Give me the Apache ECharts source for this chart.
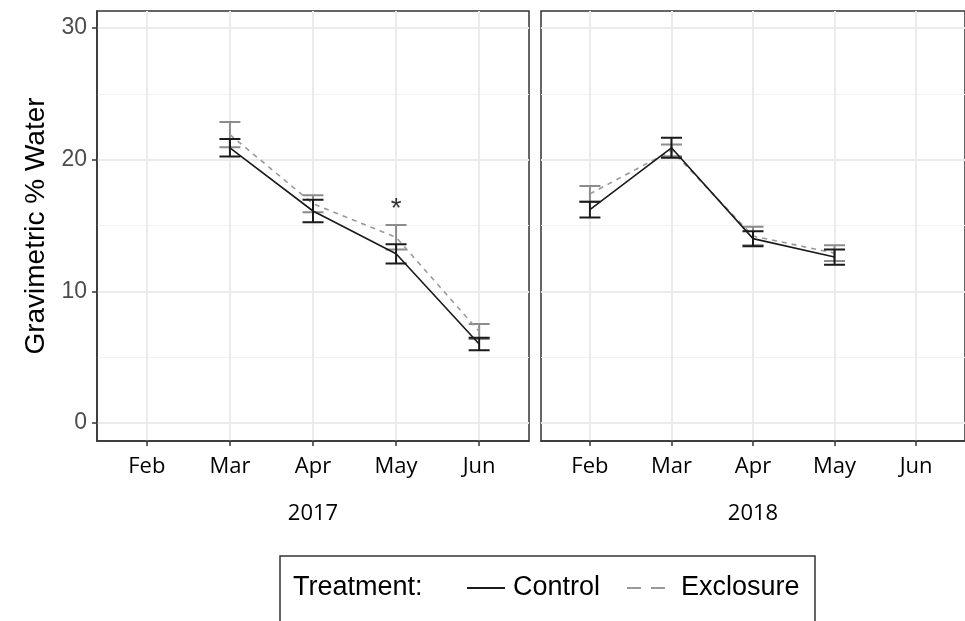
<!DOCTYPE html>
<html>
<head>
<meta charset="utf-8">
<script src="https://cdn.jsdelivr.net/npm/echarts@6/dist/echarts.min.js"></script>
<style>
html,body{margin:0;padding:0;background:#fff;}
#chart{width:965px;height:621px;}
</style>
</head>
<body>
<div id="chart"></div>
<script>
// ---- data ----
const months = ['Feb', 'Mar', 'Apr', 'May', 'Jun'];
const years = ['2017', '2018'];
const yTicks = [0, 10, 20, 30];
const yMinorTicks = [5, 15, 25];
const treatments = ['Control', 'Exclosure'];

const control2017 = [null, 20.9, 16.1, 12.85, 6.0];
const control2017Err = [null, 0.66, 0.85, 0.73, 0.47];
const exclosure2017 = [null, 21.9, 16.65, 14.1, 6.95];
const exclosure2017Err = [null, 0.95, 0.65, 0.93, 0.57];

const control2018 = [16.2, 20.9, 14.0, 12.6, null];
const control2018Err = [0.6, 0.76, 0.57, 0.58, null];
const exclosure2018 = [17.4, 20.7, 14.2, 12.9, null];
const exclosure2018Err = [0.6, 0.45, 0.7, 0.6, null];

const annotations = [{ year: '2017', month: 'May', value: 16.2, text: '*' }];

// ---- helpers ----
const CONTROL_COLOR = '#1a1a1a';
const EXCL_COLOR = '#999999';
const EXCL_ERR_COLOR = '#8c8c8c';

function linePoints(vals) {
  const out = [];
  vals.forEach((v, i) => { if (v !== null) out.push([i, v]); });
  return out;
}
function errPoints(vals, errs) {
  const out = [];
  vals.forEach((v, i) => { if (v !== null) out.push([i, v, errs[i]]); });
  return out;
}
function errRenderer(color) {
  return function (params, api) {
    const x = api.value(0), m = api.value(1), e = api.value(2);
    const top = api.coord([x, m + e]);
    const bot = api.coord([x, m - e]);
    const hw = 10.5;
    const cx = top[0];
    const d = 'M' + (cx - hw) + ' ' + top[1] + 'L' + (cx + hw) + ' ' + top[1] +
              'M' + cx + ' ' + top[1] + 'L' + cx + ' ' + bot[1] +
              'M' + (cx - hw) + ' ' + bot[1] + 'L' + (cx + hw) + ' ' + bot[1];
    return {
      type: 'path',
      shape: { pathData: d },
      style: { stroke: color, lineWidth: 2, fill: null }
    };
  };
}

const grids = [
  { left: 97, top: 11, width: 432, height: 430, show: true, borderColor: '#333', borderWidth: 1.5, backgroundColor: 'transparent' },
  { left: 541, top: 11, width: 432, height: 430, show: true, borderColor: '#333', borderWidth: 1.5, backgroundColor: 'transparent' }
];

const xAxes = years.map((yr, gi) => ({
  type: 'value', gridIndex: gi, min: -0.6, max: 4.6,
  name: yr, nameLocation: 'middle', nameGap: 62,
  nameTextStyle: { fontFamily: 'Open Sans', fontSize: 22, color: '#000' },
  axisLine: { show: true, onZero: false, lineStyle: { color: '#333', width: 1.5 } },
  axisTick: { show: true, length: 5, customValues: months.map((m, i) => i), lineStyle: { color: '#333', width: 1.5 } },
  axisLabel: { show: true, customValues: months.map((m, i) => i), margin: 15, fontFamily: 'Open Sans', fontSize: 22, color: '#000',
    formatter: v => months[Math.round(v)] || '' },
  splitLine: { show: false }
}));

const yAxes = years.map((yr, gi) => ({
  type: 'value', gridIndex: gi, min: -1.37, max: 31.29,
  name: gi === 0 ? 'Gravimetric % Water' : '',
  nameLocation: 'middle', nameGap: 47,
  nameTextStyle: { fontFamily: 'Liberation Sans', fontSize: 28, color: '#000' },
  axisLine: { show: gi === 0, onZero: false, lineStyle: { color: '#333', width: 1.5 } },
  axisTick: { show: gi === 0, length: 5, customValues: yTicks, lineStyle: { color: '#333', width: 1.5 } },
  axisLabel: { show: gi === 0, customValues: yTicks, margin: 10, fontFamily: 'Liberation Sans', fontSize: 23, color: '#4d4d4d' },
  splitLine: { show: false }
}));

function gridLinesSeries(gi) {
  const data = [];
  yMinorTicks.forEach(v => data.push({ yAxis: v, lineStyle: { color: '#f2f2f2', width: 1.2, type: 'solid' } }));
  yTicks.forEach(v => data.push({ yAxis: v, lineStyle: { color: '#ebebeb', width: 2, type: 'solid' } }));
  months.forEach((m, i) => data.push({ xAxis: i, lineStyle: { color: '#ebebeb', width: 2, type: 'solid' } }));
  return {
    type: 'line', name: 'grid' + gi, xAxisIndex: gi, yAxisIndex: gi, data: [], z: 0, silent: true,
    markLine: { z: 0, silent: true, symbol: ['none', 'none'], label: { show: false }, animation: false, data: data }
  };
}

const sets = [
  { c: control2017, ce: control2017Err, e: exclosure2017, ee: exclosure2017Err },
  { c: control2018, ce: control2018Err, e: exclosure2018, ee: exclosure2018Err }
];

const series = [];
sets.forEach((s, gi) => {
  series.push(gridLinesSeries(gi));
  series.push({
    type: 'line', name: treatments[1], xAxisIndex: gi, yAxisIndex: gi, data: linePoints(s.e),
    symbol: 'none', showSymbol: false, z: 6,
    lineStyle: { color: EXCL_COLOR, width: 1.6, type: [5, 5] }, itemStyle: { color: EXCL_COLOR }
  });
  series.push({
    type: 'custom', name: 'Exclosure SE', xAxisIndex: gi, yAxisIndex: gi, data: errPoints(s.e, s.ee),
    renderItem: errRenderer(EXCL_ERR_COLOR), z: 6, clip: false, encode: { x: 0, y: [1] }
  });
  series.push({
    type: 'line', name: treatments[0], xAxisIndex: gi, yAxisIndex: gi, data: linePoints(s.c),
    symbol: 'none', showSymbol: false, z: 7,
    lineStyle: { color: CONTROL_COLOR, width: 1.6, type: 'solid' }, itemStyle: { color: CONTROL_COLOR }
  });
  series.push({
    type: 'custom', name: 'Control SE', xAxisIndex: gi, yAxisIndex: gi, data: errPoints(s.c, s.ce),
    renderItem: errRenderer(CONTROL_COLOR), z: 7, clip: false, encode: { x: 0, y: [1] }
  });
});

annotations.forEach(a => {
  const gi = years.indexOf(a.year);
  series.push({
    type: 'scatter', name: 'annot', xAxisIndex: gi, yAxisIndex: gi, symbolSize: 0, z: 8,
    data: [[months.indexOf(a.month), a.value]],
    label: { show: true, position: 'inside', formatter: a.text, fontFamily: 'Liberation Sans', fontSize: 28, color: '#000' }
  });
});

const legendFont = '27px "Liberation Sans"';
const legendY = 588;
const chart = echarts.init(document.getElementById('chart'), null, { renderer: 'canvas' });
chart.setOption({
  animation: false,
  backgroundColor: '#fff',
  grid: grids,
  xAxis: xAxes,
  yAxis: yAxes,
  graphic: [
    { type: 'rect', shape: { x: 280, y: 556, width: 535, height: 90 }, style: { fill: 'transparent', stroke: '#333', lineWidth: 1.5 }, silent: true },
    { type: 'text', x: 293, y: legendY, style: { text: 'Treatment:', font: legendFont, fill: '#000', verticalAlign: 'middle' }, silent: true },
    { type: 'line', shape: { x1: 467, y1: legendY, x2: 505, y2: legendY }, style: { stroke: CONTROL_COLOR, lineWidth: 2 }, silent: true },
    { type: 'text', x: 513, y: legendY, style: { text: treatments[0], font: legendFont, fill: '#000', verticalAlign: 'middle' }, silent: true },
    { type: 'line', shape: { x1: 627, y1: legendY, x2: 665, y2: legendY }, style: { stroke: EXCL_COLOR, lineWidth: 2, lineDash: [14, 10] }, silent: true },
    { type: 'text', x: 681, y: legendY, style: { text: treatments[1], font: legendFont, fill: '#000', verticalAlign: 'middle' }, silent: true }
  ],
  series: series
});
</script>
</body>
</html>
